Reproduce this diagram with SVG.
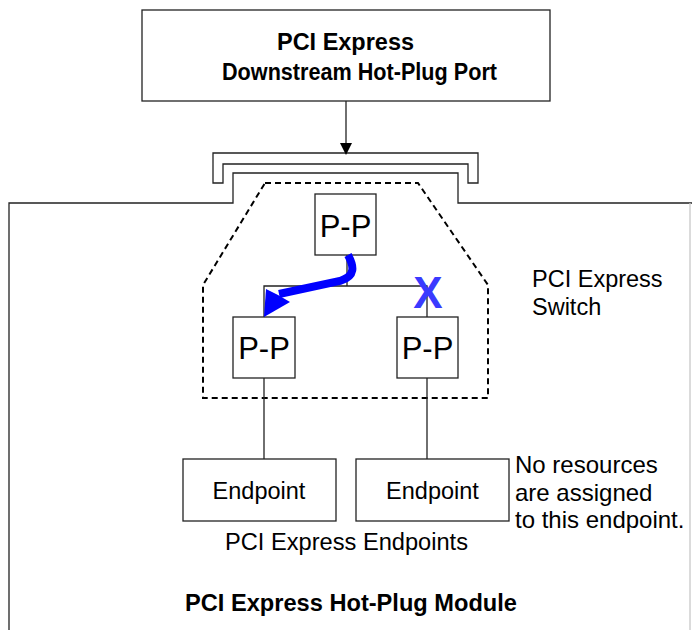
<svg xmlns="http://www.w3.org/2000/svg" width="692" height="630" viewBox="0 0 692 630">
<style>
.box{fill:#fff;stroke:#222;stroke-width:1.3}
.ln{fill:none;stroke:#222;stroke-width:1.3}
.t{font-family:"Liberation Sans",Arial,sans-serif;fill:#000}
.b{font-weight:bold;font-size:23px}
.r{font-size:23.5px}
.n{font-size:24px}
.pp{font-size:31px}
</style>
<rect width="692" height="630" fill="#fff"/>
<g id="module">
<polyline class="ln" points="9,630 9,203 233,203 233,173 458,173 458,203 692,203"/>
<line x1="690" y1="203" x2="690" y2="630" stroke="#c8c8c8" stroke-width="1.3"/>
<text class="t b" x="185" y="611" textLength="332" lengthAdjust="spacingAndGlyphs">PCI Express Hot-Plug Module</text>
</g>
<g id="port">
<rect class="box" x="142" y="10" width="408" height="91"/>
<text class="t b" x="277" y="50" textLength="137" lengthAdjust="spacingAndGlyphs">PCI Express</text>
<text class="t b" x="222" y="80" textLength="275" lengthAdjust="spacingAndGlyphs">Downstream Hot-Plug Port</text>
</g>
<g id="slot">
<polygon class="box" points="213,183 213,153 478,153 478,183 468,183 468,164 223,164 223,183"/>
</g>
<g id="switch">
<polygon points="265,183 418,183 488,285 488,398 203,398 203,285" fill="none" stroke="#000" stroke-width="2" stroke-dasharray="6 4"/>
<text class="t r" x="532" y="287">PCI Express</text>
<text class="t r" x="532" y="315">Switch</text>
</g>
<g id="connectors">
<line class="ln" x1="346" y1="101" x2="346" y2="144"/>
<polygon points="340,143 352,143 346,155" fill="#000"/>
<line class="ln" x1="347" y1="255" x2="347" y2="286"/>
<polyline class="ln" points="264,317 264,286 427,286 427,317"/>
<line class="ln" x1="264" y1="378" x2="264" y2="459"/>
<line class="ln" x1="427" y1="378" x2="427" y2="459"/>
</g>
<g id="pp-top">
<rect class="box" x="315" y="194" width="61" height="61"/>
<text class="t pp" x="345.5" y="237" text-anchor="middle">P-P</text>
</g>
<g id="pp-left">
<rect class="box" x="233" y="317" width="62" height="61"/>
<text class="t pp" x="264" y="359" text-anchor="middle">P-P</text>
</g>
<g id="pp-right">
<rect class="box" x="397" y="317" width="61" height="61"/>
<text class="t pp" x="427.5" y="359" text-anchor="middle">P-P</text>
</g>
<g id="route">
<path d="M348,255 C354,266 356,276 340,281 L279,294" fill="none" stroke="#0000ff" stroke-width="8"/>
<polygon points="264,317 266,289 278,295 290,302" fill="#0000ff"/>
</g>
<g id="blocked">
<text x="428" y="308" text-anchor="middle" font-family="Liberation Sans,Arial,sans-serif" font-weight="bold" font-size="44" fill="#3a3aff">X</text>
</g>
<g id="ep-left">
<rect class="box" x="183" y="459" width="153" height="62"/>
<text class="t r" x="259" y="499" text-anchor="middle">Endpoint</text>
</g>
<g id="ep-right">
<rect class="box" x="356" y="459" width="153" height="62"/>
<text class="t r" x="432.5" y="499" text-anchor="middle">Endpoint</text>
</g>
<g id="labels">
<text class="t r" x="225" y="550" textLength="243" lengthAdjust="spacingAndGlyphs">PCI Express Endpoints</text>
<text class="t n" x="515" y="473">No resources</text>
<text class="t n" x="515" y="500.5">are assigned</text>
<text class="t n" x="515" y="528">to this endpoint.</text>
</g>
</svg>
